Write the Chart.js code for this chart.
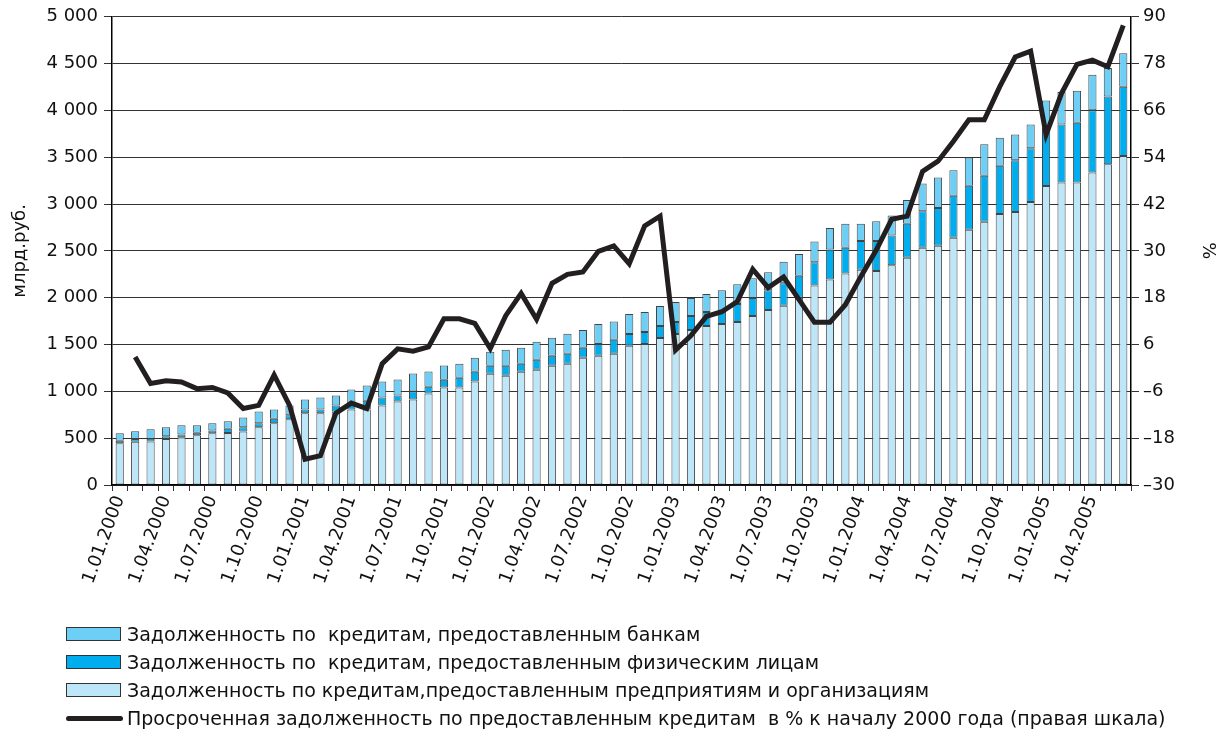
<!DOCTYPE html>
<html>
<head>
<meta charset="utf-8">
<script src="https://cdn.jsdelivr.net/npm/chart.js@4.4.0/dist/chart.umd.min.js"></script>
<style>
  body { margin: 0; background: #fff; }
  #wrap { position: relative; width: 1222px; height: 737px; }
  #legend { position: absolute; left: 66px; top: 620px; font: 19px 'DejaVu Sans'; color: #111; }
  .row { height: 28px; display: flex; align-items: center; white-space: pre; }
  .box { width: 53px; height: 12px; border: 1px solid #333; margin-right: 6px; }
  .ln { width: 57px; height: 5px; border-radius: 3px; background: #231f20; margin-right: 4px; }
</style>
</head>
<body>
<div id="wrap">
  <canvas id="myChart" width="1222" height="737"></canvas>
  <div id="legend"></div>
</div>
<script>
const months = [
  '1.01.2000', '1.02.2000', '1.03.2000', '1.04.2000', '1.05.2000', '1.06.2000',
  '1.07.2000', '1.08.2000', '1.09.2000', '1.10.2000', '1.11.2000', '1.12.2000',
  '1.01.2001', '1.02.2001', '1.03.2001', '1.04.2001', '1.05.2001', '1.06.2001',
  '1.07.2001', '1.08.2001', '1.09.2001', '1.10.2001', '1.11.2001', '1.12.2001',
  '1.01.2002', '1.02.2002', '1.03.2002', '1.04.2002', '1.05.2002', '1.06.2002',
  '1.07.2002', '1.08.2002', '1.09.2002', '1.10.2002', '1.11.2002', '1.12.2002',
  '1.01.2003', '1.02.2003', '1.03.2003', '1.04.2003', '1.05.2003', '1.06.2003',
  '1.07.2003', '1.08.2003', '1.09.2003', '1.10.2003', '1.11.2003', '1.12.2003',
  '1.01.2004', '1.02.2004', '1.03.2004', '1.04.2004', '1.05.2004', '1.06.2004',
  '1.07.2004', '1.08.2004', '1.09.2004', '1.10.2004', '1.11.2004', '1.12.2004',
  '1.01.2005', '1.02.2005', '1.03.2005', '1.04.2005', '1.05.2005', '1.06.2005'
]

// млрд. руб.
const enterprises = [
  445, 462, 465, 490, 510, 530, 552, 555, 572, 616, 659, 701,
  765, 765, 786, 807, 807, 850, 892, 914, 977, 1040, 1040, 1104,
  1189, 1168, 1210, 1231, 1274, 1295, 1359, 1379, 1401, 1486, 1507, 1571,
  1613, 1656, 1698, 1720, 1741, 1805, 1869, 1915, 2000, 2130, 2194, 2258,
  2300, 2286, 2346, 2428, 2534, 2555, 2640, 2725, 2810, 2895, 2916, 3022,
  3192, 3231, 3231, 3337, 3426, 3514
]
const individuals = [
  28, 28, 30, 30, 30, 28, 30, 45, 45, 43, 49, 43,
  42, 42, 64, 64, 92, 85, 64, 85, 71, 85, 106, 106,
  85, 106, 85, 106, 106, 106, 106, 128, 149, 127, 128, 128,
  128, 149, 149, 127, 191, 191, 212, 240, 235, 250, 320, 276,
  305, 319, 319, 361, 389, 404, 450, 471, 492, 513, 552, 574,
  623, 619, 637, 666, 722, 740
]
const banks = [
  79, 84, 100, 96, 97, 79, 77, 80, 105, 127, 99, 106,
  107, 128, 106, 149, 163, 170, 170, 191, 163, 151, 149, 149,
  149, 170, 170, 192, 192, 213, 191, 213, 195, 213, 212, 212,
  213, 191, 192, 234, 213, 213, 192, 229, 232, 220, 230, 255,
  184, 212, 212, 255, 297, 325, 272, 301, 336, 301, 276, 254,
  290, 347, 343, 378, 304, 357
]
// % к началу 2000 года
const overdue = [
  null, 2.8, -4.0, -3.3, -3.6, -5.3, -5.0, -6.4, -10.4, -9.6, -1.8, -9.6,
  -23.4, -22.5, -11.6, -9.0, -10.4, 1.1, 4.9, 4.3, 5.4, 12.6, 12.6, 11.4,
  5.0, 13.4, 19.1, 12.5, 21.7, 24.0, 24.6, 29.9, 31.3, 26.7, 36.4, 38.9,
  4.6, 8.3, 13.2, 14.4, 17.0, 25.3, 20.6, 23.3, 17.5, 11.7, 11.7, 16.2,
  23.4, 30.2, 38.1, 38.9, 50.4, 53.0, 58.1, 63.6, 63.6, 72.1, 79.7, 81.2,
  59.8, 70.4, 77.8, 78.9, 77.2, 87.8
]

Chart.defaults.font.family = 'DejaVu Sans'
Chart.defaults.font.size = 18
Chart.defaults.color = '#111'

const barStyle = {
  type: 'bar',
  yAxisID: 'y',
  borderColor: '#444',
  borderWidth: 1,
  borderSkipped: false,
  barPercentage: 0.53,
  categoryPercentage: 1,
  order: 1
}

var ctx = document.getElementById('myChart').getContext('2d')
var chart = new Chart(ctx, {
  data: {
    labels: months,
    datasets: [
      Object.assign({ label: 'Задолженность по кредитам,предоставленным предприятиям и организациям', data: enterprises, backgroundColor: '#bde6f9' }, barStyle),
      Object.assign({ label: 'Задолженность по  кредитам, предоставленным физическим лицам', data: individuals, backgroundColor: '#00aeef' }, barStyle),
      Object.assign({ label: 'Задолженность по  кредитам, предоставленным банкам', data: banks, backgroundColor: '#6dcff6' }, barStyle),
      {
        type: 'line',
        label: 'Просроченная задолженность по предоставленным кредитам  в % к началу 2000 года (правая шкала)',
        data: overdue,
        yAxisID: 'y1',
        borderColor: '#231f20',
        backgroundColor: '#231f20',
        borderWidth: 5,
        borderJoinStyle: 'miter',
        pointRadius: 0,
        tension: 0,
        order: 0
      }
    ]
  },
  options: {
    responsive: false,
    animation: false,
    layout: { padding: { top: 15, bottom: 102 } },
    plugins: { legend: { display: false }, tooltip: { enabled: false } },
    scales: {
      x: {
        stacked: true,
        afterFit: s => { s.height = 150 },
        border: { color: '#000', width: 1.5 },
        grid: { offset: true, drawOnChartArea: false, tickLength: 6, color: '#333' },
        ticks: {
          autoSkip: false,
          minRotation: 70,
          maxRotation: 70,
          padding: 2,
          callback: function (v, i) { return i % 3 === 0 ? months[i] : '' }
        }
      },
      y: {
        stacked: true,
        position: 'left',
        min: 0,
        max: 5000,
        afterFit: s => { s.width = 112 },
        border: { color: '#000', width: 1.5 },
        grid: { color: '#333', lineWidth: 1, tickLength: 8 },
        title: { display: true, text: 'млрд.руб.', padding: { top: 10, bottom: 4 } },
        ticks: {
          stepSize: 500,
          padding: 6,
          callback: v => String(v).replace(/\B(?=(\d{3})+(?!\d))/g, ' ')
        }
      },
      y1: {
        position: 'right',
        min: -30,
        max: 90,
        afterFit: s => { s.width = 91 },
        border: { color: '#000', width: 1.5 },
        grid: { drawOnChartArea: false, color: '#333', tickLength: 8 },
        title: { display: true, text: '%', padding: { top: 4, bottom: 4 } },
        ticks: {
          stepSize: 12,
          padding: 4,
          callback: v => v < 0 ? '–' + Math.abs(v) : String(v)
        }
      }
    }
  }
})

// legend in the reference order: banks, individuals, enterprises, line
const legendOrder = [2, 1, 0, 3]
const legend = document.getElementById('legend')
legendOrder.forEach(function (i) {
  const ds = chart.data.datasets[i]
  const row = document.createElement('div')
  row.className = 'row'
  const mark = document.createElement('span')
  if (ds.type === 'line') {
    mark.className = 'ln'
  } else {
    mark.className = 'box'
    mark.style.background = ds.backgroundColor
  }
  const text = document.createElement('span')
  text.textContent = ds.label
  row.appendChild(mark)
  row.appendChild(text)
  legend.appendChild(row)
})
</script>
</body>
</html>
